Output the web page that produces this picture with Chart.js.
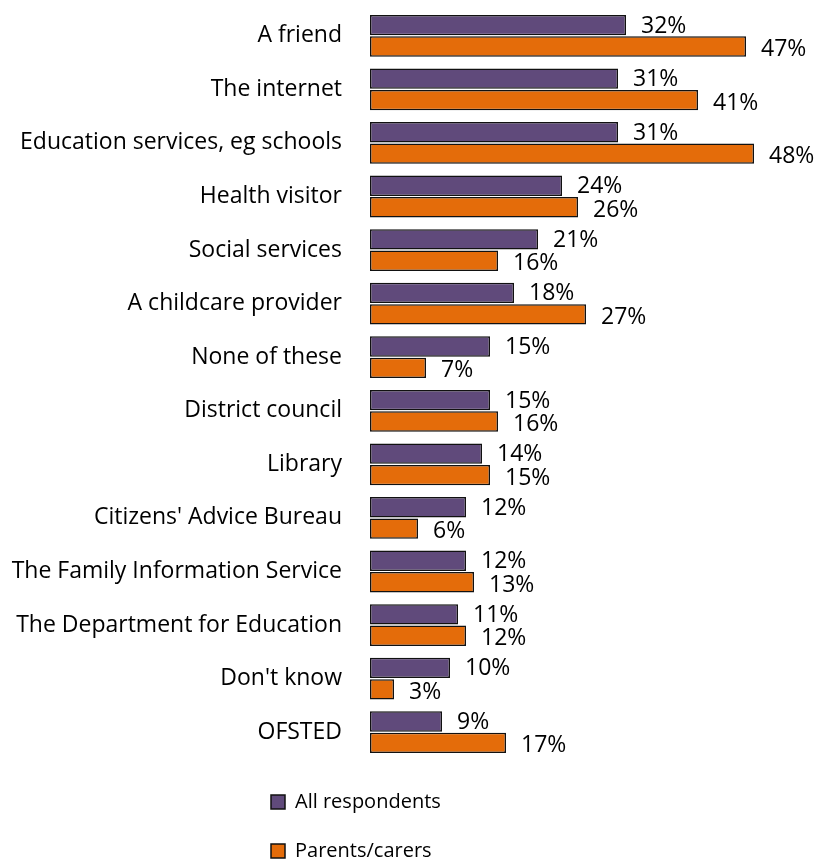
<!DOCTYPE html>
<html>
<head>
<meta charset="utf-8">
<script src="https://cdn.jsdelivr.net/npm/chart.js@4.4.1/dist/chart.umd.min.js"></script>
<style>
  html, body { margin: 0; padding: 0; background: #fff; }
  #grafico { width: 814px; height: 861px; }
</style>
</head>
<body>
<div id="grafico"><canvas id="myChart"></canvas></div>
<script>
// Fontes de informação, na ordem do gráfico
const categorias = [
    'A friend',
    'The internet',
    'Education services, eg schools',
    'Health visitor',
    'Social services',
    'A childcare provider',
    'None of these',
    'District council',
    'Library',
    "Citizens' Advice Bureau",
    'The Family Information Service',
    'The Department for Education',
    "Don't know",
    'OFSTED'
];

// Percentuais de cada grupo
const todosRespondentes = [32, 31, 31, 24, 21, 18, 15, 15, 14, 12, 12, 11, 10, 9];
const paisCuidadores = [47, 41, 48, 26, 16, 27, 7, 16, 15, 6, 13, 12, 3, 17];

const nomesSeries = ['All respondents', 'Parents/carers'];

const fonte = "'Open Sans', 'DejaVu Sans', sans-serif";

// Escreve o valor ao lado do fim de cada barra
const rotulosBarras = {
    id: 'rotulosBarras',
    afterDatasetsDraw(chart) {
        const ctx = chart.ctx;
        ctx.save();
        ctx.font = '23px ' + fonte;
        ctx.fillStyle = '#000';
        ctx.textAlign = 'left';
        ctx.textBaseline = 'middle';
        chart.data.datasets.forEach((ds, i) => {
            const meta = chart.getDatasetMeta(i);
            const deslocY = i === 0 ? 1 : 3;
            meta.data.forEach((barra, j) => {
                ctx.fillText(ds.data[j] + '%', barra.x + 15, barra.y + deslocY);
            });
        });
        ctx.restore();
    }
};

// Legenda empilhada embaixo, alinhada à esquerda do eixo
const posicionaLegenda = {
    id: 'posicionaLegenda',
    afterLayout(chart) {
        const lg = chart.legend;
        const largura = lg.right - lg.left;
        const altura = lg.bottom - lg.top;
        lg.left = 242;
        lg.right = lg.left + largura;
        lg.top = 763;
        lg.bottom = lg.top + altura;
    }
};

const data = {
    labels: categorias,
    datasets: [
        {
            label: nomesSeries[0],
            data: todosRespondentes,
            backgroundColor: '#604A7B',
            borderColor: '#111',
            borderWidth: 1.5,
            borderSkipped: false,
            categoryPercentage: 0.8,
            barPercentage: 0.95
        },
        {
            label: nomesSeries[1],
            data: paisCuidadores,
            backgroundColor: '#E46C0A',
            borderColor: '#111',
            borderWidth: 1.5,
            borderSkipped: false,
            categoryPercentage: 0.8,
            barPercentage: 0.95
        }
    ]
};

const config = {
    type: 'bar',
    data: data,
    options: {
        indexAxis: 'y',
        responsive: true,
        maintainAspectRatio: false,
        animation: false,
        layout: { padding: { top: 9, right: 44, left: 0, bottom: -6 } },
        scales: {
            x: {
                display: false,
                min: 0,
                max: 50
            },
            y: {
                grid: { display: false, drawTicks: false },
                border: { display: false },
                ticks: {
                    color: '#000',
                    padding: 28,
                    font: { family: fonte, size: 23 }
                },
                afterFit(scale) {
                    scale.width = 370;
                    // sem folga extra acima e abaixo das categorias
                    scale.paddingTop = 0;
                    scale.paddingBottom = 0;
                }
            }
        },
        plugins: {
            tooltip: { enabled: false },
            legend: {
                position: 'bottom',
                align: 'start',
                fullSize: false,
                labels: {
                    color: '#000',
                    boxWidth: 14,
                    boxHeight: 14,
                    padding: 29,
                    font: { family: fonte, size: 20 }
                }
            }
        }
    },
    plugins: [rotulosBarras, posicionaLegenda]
};

const myChart = new Chart(document.getElementById('myChart'), config);
</script>
</body>
</html>
